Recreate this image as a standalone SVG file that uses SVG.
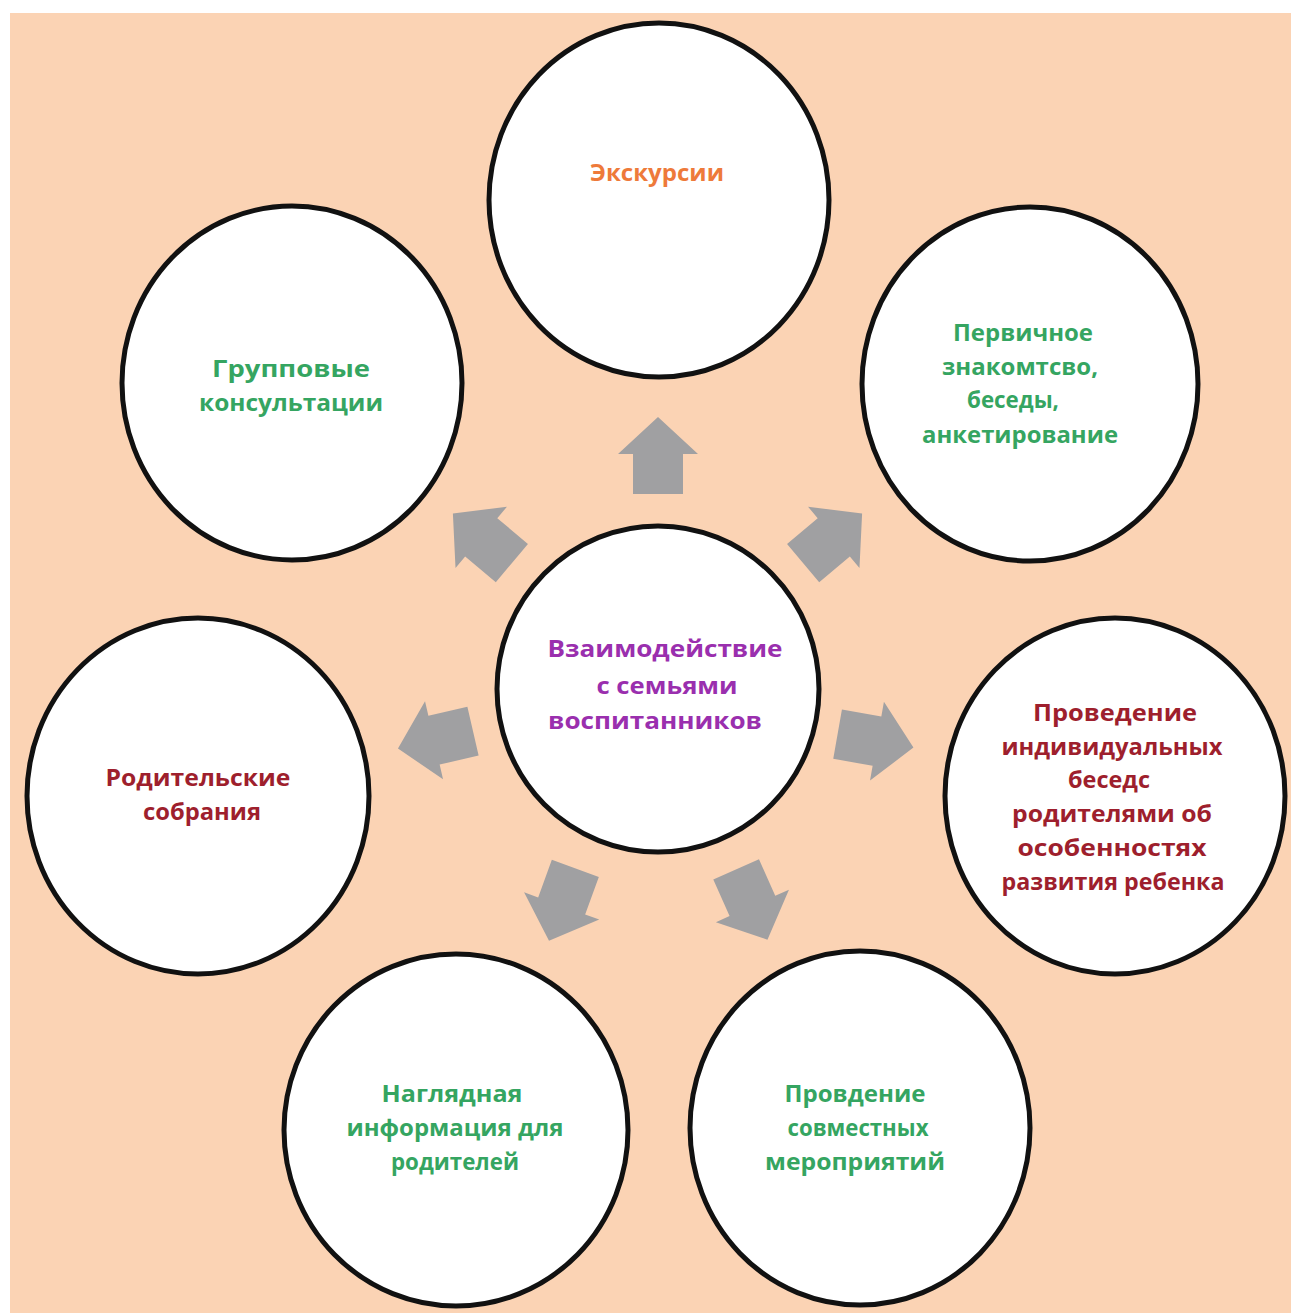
<svg xmlns="http://www.w3.org/2000/svg" xmlns:xlink="http://www.w3.org/1999/xlink" width="1291" height="1313" viewBox="0 0 1291 1313">
<style>
.node{fill:#ffffff;stroke:#111111;stroke-width:5}
.t{font-family:"Open Sans","Noto Sans","DejaVu Sans",sans-serif;font-weight:700;font-size:23px;text-anchor:middle}
.g{fill:#35a561}
.r{fill:#9e1f2d}
.p{fill:#9a2fae}
.o{fill:#ee7a3a}
.arrow{fill:#a0a0a2}
</style>
<defs>
<path id="arr" d="M0,-38 L40,-1 L25,-1 L25,39 L-25,39 L-25,-1 L-40,-1 Z"/>
</defs>
<rect x="0" y="0" width="1291" height="1313" fill="#ffffff"/>
<rect x="10" y="13" width="1281" height="1300" fill="#fbd3b4"/>
<g id="connectors" class="arrow">
<use href="#arr" transform="translate(658,455)"/>
<use href="#arr" transform="translate(482,538) rotate(-50)"/>
<use href="#arr" transform="translate(833,538) rotate(50)"/>
<use href="#arr" transform="translate(435,740) rotate(-103)"/>
<use href="#arr" transform="translate(876,741) rotate(100)"/>
<use href="#arr" transform="translate(562,905) rotate(-160)"/>
<use href="#arr" transform="translate(752,905) rotate(156)"/>
</g>
<g id="node-top">
<ellipse class="node" cx="659" cy="200" rx="170" ry="177"/>
<text class="t o" x="657" y="181" textLength="134" lengthAdjust="spacingAndGlyphs">Экскурсии</text>
</g>
<g id="node-top-left">
<ellipse class="node" cx="292" cy="383" rx="170" ry="177"/>
<text class="t g" x="291" y="377" textLength="158" lengthAdjust="spacingAndGlyphs">Групповые</text>
<text class="t g" x="291" y="411" textLength="184" lengthAdjust="spacingAndGlyphs">консультации</text>
</g>
<g id="node-top-right">
<ellipse class="node" cx="1030" cy="384" rx="168" ry="177"/>
<text class="t g" x="1023" y="341" textLength="140" lengthAdjust="spacingAndGlyphs">Первичное</text>
<text class="t g" x="1020" y="375" textLength="156" lengthAdjust="spacingAndGlyphs">знакомтсво,</text>
<text class="t g" x="1013" y="408" textLength="92" lengthAdjust="spacingAndGlyphs">беседы,</text>
<text class="t g" x="1020" y="443" textLength="196" lengthAdjust="spacingAndGlyphs">анкетирование</text>
</g>
<g id="node-center">
<ellipse class="node" cx="658" cy="689" rx="161" ry="163"/>
<text class="t p" x="665" y="657" textLength="235" lengthAdjust="spacingAndGlyphs">Взаимодействие</text>
<text class="t p" x="667" y="694" textLength="141" lengthAdjust="spacingAndGlyphs">с семьями</text>
<text class="t p" x="655" y="729" textLength="214" lengthAdjust="spacingAndGlyphs">воспитанников</text>
</g>
<g id="node-left">
<ellipse class="node" cx="198" cy="796" rx="171" ry="178"/>
<text class="t r" x="198" y="786" textLength="185" lengthAdjust="spacingAndGlyphs">Родительские</text>
<text class="t r" x="202" y="820" textLength="118" lengthAdjust="spacingAndGlyphs">собрания</text>
</g>
<g id="node-right">
<ellipse class="node" cx="1115" cy="796" rx="170" ry="178"/>
<text class="t r" x="1115" y="721" textLength="164" lengthAdjust="spacingAndGlyphs">Проведение</text>
<text class="t r" x="1112" y="755" textLength="221" lengthAdjust="spacingAndGlyphs">индивидуальных</text>
<text class="t r" x="1109" y="788" textLength="82" lengthAdjust="spacingAndGlyphs">беседс</text>
<text class="t r" x="1112" y="822" textLength="200" lengthAdjust="spacingAndGlyphs">родителями об</text>
<text class="t r" x="1112" y="856" textLength="189" lengthAdjust="spacingAndGlyphs">особенностях</text>
<text class="t r" x="1113" y="890" textLength="223" lengthAdjust="spacingAndGlyphs">развития ребенка</text>
</g>
<g id="node-bottom-left">
<ellipse class="node" cx="456" cy="1130" rx="172" ry="176"/>
<text class="t g" x="452" y="1102" textLength="141" lengthAdjust="spacingAndGlyphs">Наглядная</text>
<text class="t g" x="455" y="1136" textLength="217" lengthAdjust="spacingAndGlyphs">информация для</text>
<text class="t g" x="455" y="1170" textLength="128" lengthAdjust="spacingAndGlyphs">родителей</text>
</g>
<g id="node-bottom-right">
<ellipse class="node" cx="860" cy="1128" rx="170" ry="177"/>
<text class="t g" x="855" y="1102" textLength="141" lengthAdjust="spacingAndGlyphs">Провдение</text>
<text class="t g" x="858" y="1136" textLength="141" lengthAdjust="spacingAndGlyphs">совместных</text>
<text class="t g" x="855" y="1170" textLength="180" lengthAdjust="spacingAndGlyphs">мероприятий</text>
</g>
</svg>
